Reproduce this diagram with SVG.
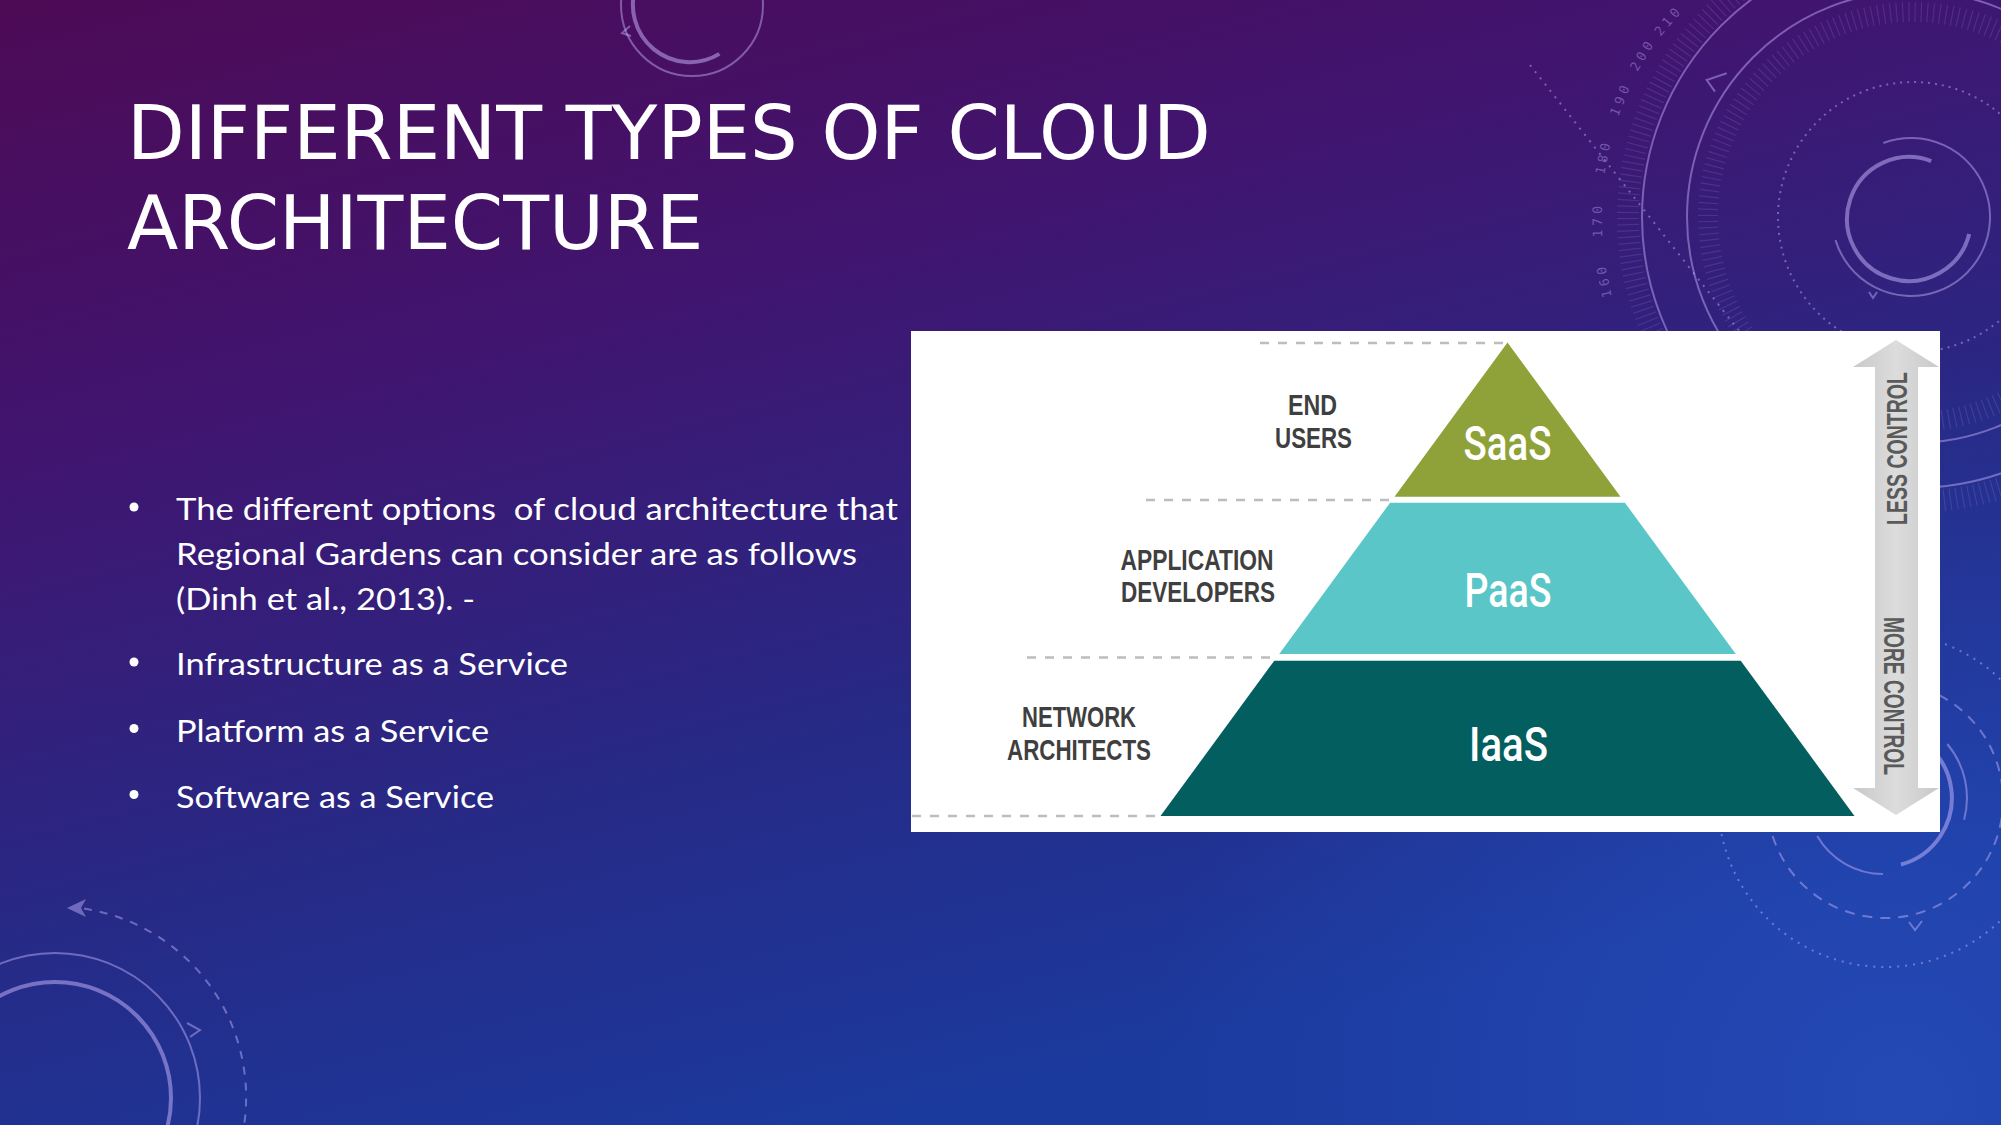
<svg xmlns="http://www.w3.org/2000/svg" width="2001" height="1125" viewBox="0 0 2001 1125">
<defs>
<linearGradient id="bg" x1="0" y1="0" x2="0.45" y2="1">
<stop offset="0" stop-color="#4d0a55"/>
<stop offset="0.35" stop-color="#401570"/>
<stop offset="0.7" stop-color="#262a86"/>
<stop offset="1" stop-color="#1b3a9e"/>
</linearGradient>
<radialGradient id="glow" cx="1900" cy="1100" r="750" gradientUnits="userSpaceOnUse">
<stop offset="0" stop-color="#2a52c4" stop-opacity="0.6"/>
<stop offset="1" stop-color="#2a52c4" stop-opacity="0"/>
</radialGradient>
<linearGradient id="shaft" x1="0" y1="0" x2="1" y2="0">
<stop offset="0" stop-color="#c9c9c9"/>
<stop offset="0.5" stop-color="#dcdcdc"/>
<stop offset="1" stop-color="#c9c9c9"/>
</linearGradient>
<style>
.deco{fill:none;stroke:#c9b8ff;stroke-opacity:0.45;stroke-width:2}
.thick{stroke-width:4;stroke-opacity:0.5}
.ticks{fill:none;stroke:#c9b8ff;stroke-opacity:0.14;stroke-dasharray:1.2 5}
.num{font-family:"DejaVu Sans Mono",monospace;font-size:13px;letter-spacing:4px;fill:#c9b8ff;fill-opacity:0.4;text-anchor:middle}
.title{font-family:"DejaVu Sans",sans-serif;font-size:75px;fill:#ffffff}
.body{font-family:Lato,"Open Sans",sans-serif;font-size:31px;fill:#ffffff;white-space:pre}
.guide{stroke:#bdbdbd;stroke-width:2.5;stroke-dasharray:9 9;fill:none}
.lbl{font-family:"Liberation Sans Narrow","Liberation Sans",sans-serif;font-weight:bold;font-size:30px;fill:#3f3f3f;text-anchor:middle}
.tier{font-family:Roboto,"Liberation Sans",sans-serif;font-weight:500;font-size:49px;fill:#ffffff;text-anchor:middle}
.ctl{font-family:"Liberation Sans Narrow","Liberation Sans",sans-serif;font-weight:bold;font-size:30px;fill:#5a5a5a;text-anchor:middle}
</style>
</defs>

<g id="background">
<rect x="0" y="0" width="2001" height="1125" fill="url(#bg)"/>
<rect x="0" y="0" width="2001" height="1125" fill="url(#glow)"/>
<!-- top middle -->
<circle class="deco" cx="692" cy="5" r="71"/>
<path class="deco thick" d="M719.4,53.9 A57,57 0 0 1 636.4,-14.5"/>
<polyline class="deco" points="630,26 622,33 631,36"/>
<!-- top right radar -->
<circle class="deco" cx="1913" cy="217" r="271"/>
<circle class="deco" cx="1913" cy="217" r="226"/>
<circle class="ticks" cx="1913" cy="217" r="285" stroke-width="22"/>
<circle class="ticks" cx="1913" cy="217" r="205" stroke-width="20"/>
<circle class="deco" cx="1913" cy="217" r="135" stroke-dasharray="2 5"/>
<path class="deco" d="M1883.3,143 A79,79 0 1 1 1835.5,240.1"/>
<path class="deco thick" d="M1969.2,234 A62,62 0 1 1 1931.2,161.1"/>
<line class="deco" x1="1530" y1="65" x2="1740" y2="332" stroke-dasharray="2 6"/>
<polyline class="deco" points="1726.7,73.3 1706.7,80 1715,91.7" stroke-width="4"/>
<polyline class="deco" points="1869,292 1873,298 1877,292"/>
<text class="num" transform="translate(1603.4,280.5) rotate(-101.6)" dy="5">160</text>
<text class="num" transform="translate(1597,219.8) rotate(-90.5)" dy="5">170</text>
<text class="num" transform="translate(1602.8,156.7) rotate(-79)" dy="5">180</text>
<text class="num" transform="translate(1620,98.6) rotate(-68)" dy="5">190</text>
<text class="num" transform="translate(1642.1,54.3) rotate(-59)" dy="5">200</text>
<text class="num" transform="translate(1668,20) rotate(-50)" dy="5">210</text>
<!-- bottom right -->
<circle class="deco" cx="1885" cy="800" r="118" stroke-dasharray="10 8"/>
<circle class="deco" cx="1885" cy="800" r="167" stroke-dasharray="2 6"/>
<path class="deco thick" d="M1883,729 A69,69 0 0 1 1900.9,864.6"/>
<path class="deco" d="M1883,874 A76,76 0 0 1 1817.2,836"/>
<path class="deco" d="M1947.3,744 A84,84 0 0 1 1964.1,819.7"/>
<polyline class="deco" points="1909,922 1915,930 1922,921"/>
<!-- bottom left -->
<circle class="deco thick" cx="55" cy="1098" r="116"/>
<circle class="deco" cx="55" cy="1098" r="145"/>
<path class="deco" d="M84,908.6 A191,191 0 0 1 243.1,1131.2" stroke-dasharray="8 8"/>
<polygon points="67,908 86,899 81,908 86,917" fill="#c9b8ff" fill-opacity="0.45"/>
<polyline class="deco" points="187,1023 200,1030 190,1037"/>
</g>

<g id="title">
<text class="title" x="127" y="159">DIFFERENT TYPES OF CLOUD</text>
<text class="title" x="127" y="249">ARCHITECTURE</text>
</g>

<g id="bullets">
<circle cx="134" cy="507" r="4.5" fill="#ffffff"/>
<circle cx="134" cy="662" r="4.5" fill="#ffffff"/>
<circle cx="134" cy="728.5" r="4.5" fill="#ffffff"/>
<circle cx="134" cy="794.5" r="4.5" fill="#ffffff"/>
<text class="body" x="176" y="520" textLength="722" lengthAdjust="spacingAndGlyphs">The different options  of cloud architecture that</text>
<text class="body" x="176" y="565" textLength="681" lengthAdjust="spacingAndGlyphs">Regional Gardens can consider are as follows</text>
<text class="body" x="176" y="610" textLength="299" lengthAdjust="spacingAndGlyphs">(Dinh et al., 2013). -</text>
<text class="body" x="176" y="675" textLength="392" lengthAdjust="spacingAndGlyphs">Infrastructure as a Service</text>
<text class="body" x="176" y="741.5" textLength="313" lengthAdjust="spacingAndGlyphs">Platform as a Service</text>
<text class="body" x="176" y="807.5" textLength="318" lengthAdjust="spacingAndGlyphs">Software as a Service</text>
</g>

<g id="panel">
<rect x="911" y="331" width="1029" height="501" fill="#ffffff"/>
</g>

<g id="connectors">
<line class="guide" x1="1260" y1="343" x2="1503" y2="343"/>
<line class="guide" x1="1146" y1="500" x2="1390" y2="500"/>
<line class="guide" x1="1027" y1="657.5" x2="1274" y2="657.5"/>
<line class="guide" x1="912" y1="816" x2="1160" y2="816"/>
<g id="control-arrow">
<polygon points="1896,340 1939,367 1918,367 1918,788 1939,788 1896,815 1853,788 1875,788 1875,367 1853,367" fill="url(#shaft)"/>
<text class="ctl" transform="translate(1907,448.5) rotate(-90)" textLength="153" lengthAdjust="spacingAndGlyphs">LESS CONTROL</text>
<text class="ctl" transform="translate(1884,696) rotate(90)" textLength="158" lengthAdjust="spacingAndGlyphs">MORE CONTROL</text>
</g>
</g>

<g id="saas">
<polygon points="1507.5,342.5 1620.5,496.7 1394.5,496.7" fill="#8fa23a"/>
<text class="tier" x="1507.5" y="460" textLength="88" lengthAdjust="spacingAndGlyphs">SaaS</text>
<text class="lbl" x="1312.5" y="415" textLength="49" lengthAdjust="spacingAndGlyphs">END</text>
<text class="lbl" x="1313.5" y="448" textLength="77" lengthAdjust="spacingAndGlyphs">USERS</text>
</g>

<g id="paas">
<polygon points="1390.1,502.7 1624.9,502.7 1735.8,654 1279.2,654" fill="#5bc6c7"/>
<text class="tier" x="1508" y="607" textLength="87" lengthAdjust="spacingAndGlyphs">PaaS</text>
<text class="lbl" x="1197" y="570" textLength="153" lengthAdjust="spacingAndGlyphs">APPLICATION</text>
<text class="lbl" x="1198" y="602" textLength="154" lengthAdjust="spacingAndGlyphs">DEVELOPERS</text>
</g>

<g id="iaas">
<polygon points="1274.3,660.7 1740.7,660.7 1854.5,816 1160.5,816" fill="#035e5f"/>
<text class="tier" x="1508.5" y="761" textLength="79" lengthAdjust="spacingAndGlyphs">IaaS</text>
<text class="lbl" x="1079" y="727" textLength="114" lengthAdjust="spacingAndGlyphs">NETWORK</text>
<text class="lbl" x="1079" y="760" textLength="144" lengthAdjust="spacingAndGlyphs">ARCHITECTS</text>
</g>
</svg>
